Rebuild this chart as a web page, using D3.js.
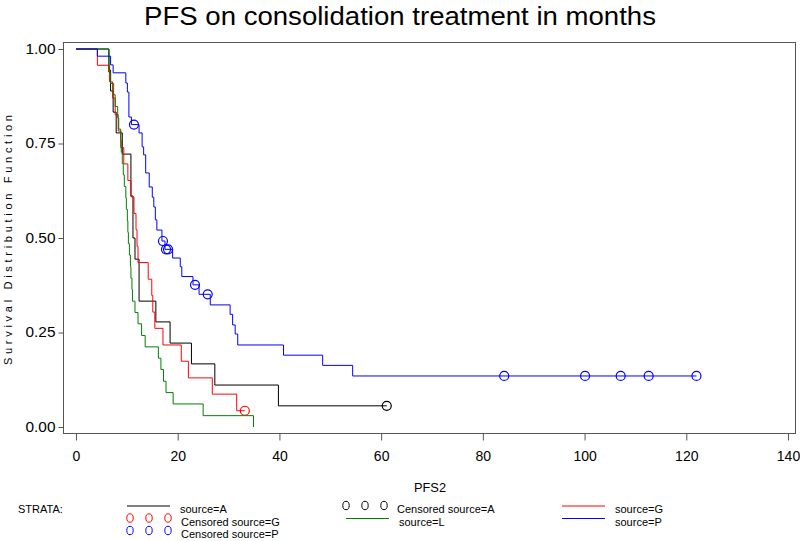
<!DOCTYPE html>
<html>
<head>
<meta charset="utf-8">
<script src="https://cdn.jsdelivr.net/npm/d3@7"></script>
<style>
  html, body { margin: 0; padding: 0; background: #fff; }
  svg { display: block; }
  text { font-family: "Liberation Sans", Arial, sans-serif; fill: #000; }
</style>
</head>
<body>
<svg id="chart" width="800" height="541"></svg>
<script>
// ---------------- DATA ----------------
const titleText = "PFS on consolidation treatment in months";
const xLabel = "PFS2";
const yLabel = "Survival Distribution Function";
const strata = ["source=A", "source=G", "source=L", "source=P"];
const colors = ["#000000", "#ff0000", "#008000", "#0000ff"];
const xTicks = [0, 20, 40, 60, 80, 100, 120, 140];
const yTicks = [0, 0.25, 0.5, 0.75, 1];

// event times (months) and survival after each event
const timesA = [6.5, 6.8, 7.3, 7.9, 9.1, 10.8, 11.2, 11.6, 12.4, 15.7, 18.5, 22.7, 27.3, 39.8];
const survA  = [0.944, 0.889, 0.833, 0.778, 0.722, 0.611, 0.5, 0.444, 0.333, 0.278, 0.222, 0.167, 0.111, 0.056];
const censorA = [61.1];

const timesG = [4.2, 6.6, 7.2, 7.7, 8.3, 8.8, 9.4, 10.2, 10.8, 11.4, 11.8, 12.0, 12.2, 14.2, 14.9, 15.1, 15.5, 17.1, 20.7, 22.1, 26.8, 31.6];
const survG  = [0.957, 0.913, 0.870, 0.826, 0.783, 0.739, 0.696, 0.652, 0.609, 0.565, 0.522, 0.478, 0.435, 0.391, 0.348, 0.304, 0.261, 0.217, 0.174, 0.130, 0.087, 0.043];
const censorG = [33.2];

const timesL = [6.4, 6.8, 7.4, 7.7, 8.2, 8.4, 8.8, 8.9, 9.1, 9.3, 9.5, 9.8, 9.9, 10.1, 10.2, 10.3, 10.5, 10.7, 10.8, 11.0, 11.1, 11.6, 12.2, 12.9, 13.6, 16.2, 16.7, 17.2, 17.7, 19.1, 25.0, 34.9];
const survL  = [0.939, 0.909, 0.879, 0.848, 0.818, 0.788, 0.758, 0.727, 0.697, 0.667, 0.636, 0.606, 0.576, 0.545, 0.515, 0.485, 0.455, 0.424, 0.394, 0.364, 0.333, 0.303, 0.273, 0.242, 0.212, 0.182, 0.152, 0.121, 0.091, 0.061, 0.030, 0];
const censorL = [];

const timesP = [4.2, 6.8, 7.3, 9.8, 10.1, 10.4, 10.9, 12.4, 13.0, 13.3, 13.7, 14.4, 15.0, 15.3, 15.6, 15.9, 16.9, 17.5, 19.0, 20.5, 20.8, 23.0, 24.2, 26.4, 30.3, 30.8, 31.3, 31.8, 40.8, 48.5, 54.4];
const survP  = [0.981, 0.958, 0.937, 0.91, 0.886, 0.82, 0.80, 0.778, 0.741, 0.72, 0.672, 0.635, 0.608, 0.582, 0.548, 0.521, 0.492, 0.47, 0.447, 0.424, 0.398, 0.376, 0.351, 0.323, 0.298, 0.27, 0.246, 0.217, 0.19, 0.163, 0.135];
const censorP = [11.4, 17.1, 17.7, 18.1, 23.4, 25.9, 84.2, 100.1, 107.1, 112.6, 122.0];

const series = [
  { name: strata[0], times: timesA, surv: survA, censor: censorA, color: colors[0] },
  { name: strata[1], times: timesG, surv: survG, censor: censorG, color: colors[1] },
  { name: strata[2], times: timesL, surv: survL, censor: censorL, color: colors[2] },
  { name: strata[3], times: timesP, surv: survP, censor: censorP, color: colors[3] }
];

// ---------------- CHART ----------------
const svg = d3.select("#chart");
const frame = { left: 63, right: 795, top: 42, bottom: 433 };
const x = d3.scaleLinear().domain([0, 140]).range([76, 788]);
const y = d3.scaleLinear().domain([0, 1]).range([427, 49]);

// title
svg.append("text")
  .attr("x", 400).attr("y", 25)
  .attr("text-anchor", "middle")
  .attr("font-size", 26)
  .attr("textLength", 512).attr("lengthAdjust", "spacingAndGlyphs")
  .text(titleText);

// frame
svg.append("rect")
  .attr("x", frame.left + 0.5).attr("y", frame.top + 0.5)
  .attr("width", frame.right - frame.left).attr("height", frame.bottom - frame.top)
  .attr("fill", "none").attr("stroke", "#555").attr("stroke-width", 1);

// y axis
const yAxis = d3.axisLeft(y).tickValues(yTicks).tickFormat(d3.format(".2f")).tickSize(5).tickPadding(3);
const gy = svg.append("g").attr("transform", `translate(${frame.left + 0.5},0)`).call(yAxis);
gy.select(".domain").remove();
gy.selectAll("line").attr("stroke", "#555");
gy.selectAll("text").attr("font-size", 14).attr("font-family", "Liberation Sans, Arial, sans-serif")
  .attr("textLength", 30).attr("lengthAdjust", "spacingAndGlyphs");

// x axis
const xAxis = d3.axisBottom(x).tickValues(xTicks).tickFormat(d3.format("d")).tickSize(7).tickPadding(11);
const gx = svg.append("g").attr("transform", `translate(0,${frame.bottom + 0.5})`).call(xAxis);
gx.select(".domain").remove();
gx.selectAll("line").attr("stroke", "#555");
gx.selectAll("text").attr("font-size", 14).attr("font-family", "Liberation Sans, Arial, sans-serif");

// axis titles
svg.append("text")
  .attr("x", 430).attr("y", 492)
  .attr("text-anchor", "middle").attr("font-size", 13)
  .attr("textLength", 32).attr("lengthAdjust", "spacingAndGlyphs")
  .text(xLabel);

svg.append("text")
  .attr("transform", "translate(12,240) rotate(-90)")
  .attr("text-anchor", "middle")
  .attr("font-size", 11)
  .attr("font-family", "DejaVu Sans Mono, monospace")
  .attr("textLength", 250).attr("lengthAdjust", "spacing")
  .text(yLabel);

// survival step lines
function survAt(s, t) {
  let v = 1;
  for (let i = 0; i < s.times.length; i++) if (s.times[i] <= t) v = s.surv[i];
  return v;
}
const line = d3.line().x(d => x(d[0])).y(d => y(d[1])).curve(d3.curveStepAfter);
const plot = svg.append("g");
series.forEach(s => {
  const pts = [[0, 1]];
  s.times.forEach((t, i) => pts.push([t, s.surv[i]]));
  const lastT = d3.max([d3.max(s.times), d3.max(s.censor) || 0]);
  if (lastT > d3.max(s.times)) pts.push([lastT, survAt(s, lastT)]);
  plot.append("path")
    .attr("d", line(pts))
    .attr("fill", "none")
    .attr("stroke", s.color)
    .attr("stroke-width", 1);
  plot.selectAll(null).data(s.censor).enter().append("circle")
    .attr("cx", d => x(d)).attr("cy", d => y(survAt(s, d)))
    .attr("r", 4.5)
    .attr("fill", "none").attr("stroke", s.color).attr("stroke-width", 1.2);
});

// legend
const leg = svg.append("g").attr("font-size", 11);
const rowY = [513, 525.5, 538];
leg.append("text").attr("x", 18).attr("y", rowY[0]).text("STRATA:");
const legendItems = [
  { type: "line", color: colors[0], x: 127, row: 0, label: "source=A" },
  { type: "circ", color: colors[0], x: 346, row: 0, label: "Censored source=A" },
  { type: "line", color: colors[1], x: 562, row: 0, label: "source=G" },
  { type: "circ", color: colors[1], x: 130, row: 1, label: "Censored source=G" },
  { type: "line", color: colors[2], x: 346, row: 1, label: "source=L" },
  { type: "line", color: colors[3], x: 562, row: 1, label: "source=P" },
  { type: "circ", color: colors[3], x: 130, row: 2, label: "Censored source=P" }
];
legendItems.forEach(it => {
  const by = rowY[it.row];
  if (it.type === "line") {
    leg.append("line")
      .attr("x1", it.x).attr("x2", it.x + 43)
      .attr("y1", by - 7).attr("y2", by - 7)
      .attr("stroke", it.color).attr("stroke-width", 1);
    leg.append("text").attr("x", it.x + 53).attr("y", by).text(it.label);
  } else {
    [0, 1, 2].forEach(k => {
      leg.append("ellipse")
        .attr("cx", it.x + k * 19).attr("cy", by - 7.5)
        .attr("rx", 3.2).attr("ry", 4.2)
        .attr("fill", "none").attr("stroke", it.color).attr("stroke-width", 1);
    });
    leg.append("text").attr("x", it.x + 51).attr("y", by).text(it.label);
  }
});
</script>
</body>
</html>
